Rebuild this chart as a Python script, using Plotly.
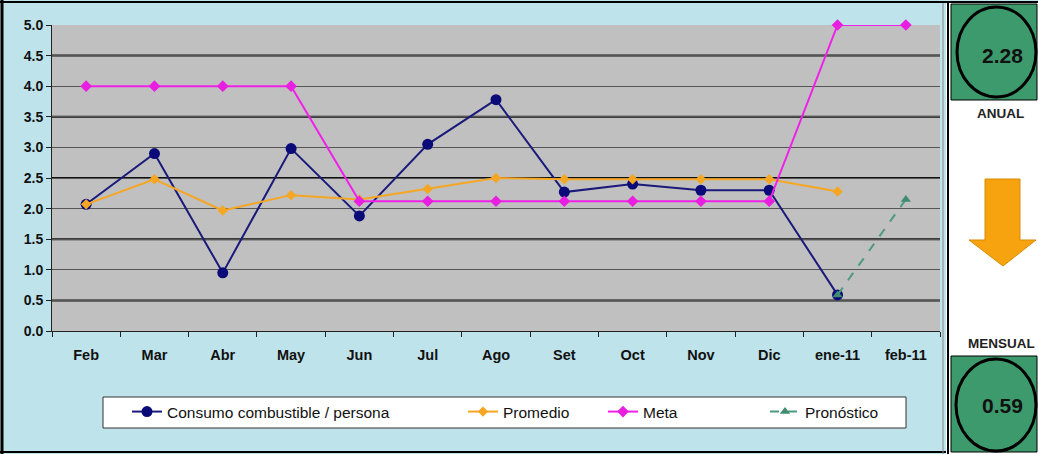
import plotly.graph_objects as go

# ---------------- data ----------------
months = ["Feb", "Mar", "Abr", "May", "Jun", "Jul", "Ago", "Set", "Oct", "Nov", "Dic", "ene-11", "feb-11"]
consumo = [2.07, 2.90, 0.95, 2.98, 1.88, 3.05, 3.78, 2.27, 2.40, 2.30, 2.30, 0.59, None]
promedio = [2.07, 2.48, 1.97, 2.22, 2.15, 2.32, 2.50, 2.48, 2.48, 2.48, 2.48, 2.28, None]
meta = [4.0, 4.0, 4.0, 4.0, 2.12, 2.12, 2.12, 2.12, 2.12, 2.12, 2.12, 5.0, 5.0]
pronostico = [None, None, None, None, None, None, None, None, None, None, None, 0.59, 2.15]
y_tick_vals = [0.0, 0.5, 1.0, 1.5, 2.0, 2.5, 3.0, 3.5, 4.0, 4.5, 5.0]
y_tick_text = ["0.0", "0.5", "1.0", "1.5", "2.0", "2.5", "3.0", "3.5", "4.0", "4.5", "5.0"]
thick_grid = [0.5, 1.5, 2.5, 3.5, 4.5]
anual_value = "2.28"
mensual_value = "0.59"

# ---------------- layout geometry (pixels) ----------------
W, H = 1038, 454
L, R, T, B = 52, 940, 25, 331


def px(x):
    return (x - L) / (R - L)


def py(y):
    return (B - y) / (B - T)


FONT = "Liberation Sans, Arial, sans-serif"
BG = "#BFE3EA"
GREEN = "#3D9A6C"

fig = go.Figure()

fig.add_trace(go.Scatter(
    x=months, y=consumo, name="Consumo combustible / persona", mode="lines+markers",
    line=dict(color="#1A1A7A", width=2), marker=dict(color="#0A0A78", size=11, symbol="circle"),
    cliponaxis=False, legend="legend"))
fig.add_trace(go.Scatter(
    x=months, y=promedio, name="Promedio", mode="lines+markers",
    line=dict(color="#F5A623", width=2), marker=dict(color="#F5A623", size=8, symbol="diamond"),
    cliponaxis=False, legend="legend2"))
fig.add_trace(go.Scatter(
    x=months, y=meta, name="Meta", mode="lines+markers",
    line=dict(color="#F020E8", width=2), marker=dict(color="#E81EE0", size=9, symbol="diamond"),
    cliponaxis=False, legend="legend3"))
fig.add_trace(go.Scatter(
    x=months, y=pronostico, name="Pronóstico", mode="lines+markers",
    line=dict(color="#4E9A7E", width=2, dash="dash"),
    marker=dict(color="#3F8C70", size=9, symbol="triangle-up"),
    cliponaxis=False, legend="legend4"))

shapes = []
# thick gridlines
for v in thick_grid:
    shapes.append(dict(type="line", xref="paper", yref="y", x0=0, x1=1, y0=v, y1=v,
                       line=dict(color="#111111", width=2), layer="below"))
# outer frame lines
shapes.append(dict(type="line", xref="paper", yref="paper", x0=px(2), x1=px(2), y0=py(0), y1=py(454),
                   line=dict(color="black", width=3)))
shapes.append(dict(type="line", xref="paper", yref="paper", x0=px(0), x1=px(1038), y0=py(2), y1=py(2),
                   line=dict(color="black", width=2)))
shapes.append(dict(type="line", xref="paper", yref="paper", x0=px(0), x1=px(1038), y0=py(452), y1=py(452),
                   line=dict(color="black", width=2)))
# right panel
shapes.append(dict(type="rect", xref="paper", yref="paper", x0=px(946), x1=px(1038), y0=py(454), y1=py(3),
                   fillcolor="white", line=dict(width=0)))
shapes.append(dict(type="line", xref="paper", yref="paper", x0=px(943), x1=px(943), y0=py(3), y1=py(454),
                   line=dict(color="#888888", width=1)))
shapes.append(dict(type="line", xref="paper", yref="paper", x0=px(948), x1=px(948), y0=py(3), y1=py(454),
                   line=dict(color="black", width=2)))
# green boxes
shapes.append(dict(type="rect", xref="paper", yref="paper", x0=px(951), x1=px(1037), y0=py(100), y1=py(4),
                   fillcolor=GREEN, line=dict(color="black", width=1)))
shapes.append(dict(type="rect", xref="paper", yref="paper", x0=px(951), x1=px(1037), y0=py(452), y1=py(356),
                   fillcolor=GREEN, line=dict(color="black", width=1)))
# circles
shapes.append(dict(type="circle", xref="paper", yref="paper", x0=px(957), x1=px(1036), y0=py(97), y1=py(7),
                   fillcolor=GREEN, line=dict(color="black", width=3)))
shapes.append(dict(type="circle", xref="paper", yref="paper", x0=px(956), x1=px(1036), y0=py(451), y1=py(359),
                   fillcolor=GREEN, line=dict(color="black", width=3)))
# down arrow
pts = [(985, 179), (1020, 179), (1020, 240), (1036, 240), (1003, 266), (969, 240), (985, 240)]
path = "M " + " L ".join(f"{px(a):.5f},{py(b):.5f}" for a, b in pts) + " Z"
shapes.append(dict(type="path", xref="paper", yref="paper", path=path,
                   fillcolor="#F7A30F", line=dict(color="#D88A00", width=1)))
# legend box
shapes.append(dict(type="rect", xref="paper", yref="paper", x0=px(103), x1=px(906), y0=py(428), y1=py(397),
                   fillcolor="white", line=dict(color="#333333", width=1)))


def note(text, x, y, size, color="#111111"):
    return dict(text=text, x=px(x), y=py(y), xref="paper", yref="paper", showarrow=False,
                xanchor="center", yanchor="middle", font=dict(family=FONT, size=size, color=color))


annotations = [
    note(f"<b>{anual_value}</b>", 1002, 55, 21),
    note(f"<b>{mensual_value}</b>", 1002, 405, 21),
    note("<b>ANUAL</b>", 1000, 113, 13.5, "#222222"),
    note("<b>MENSUAL</b>", 1001, 343, 13.5, "#222222"),
]

leg_common = dict(orientation="h", bgcolor="rgba(0,0,0,0)", borderwidth=0, xanchor="left", yanchor="middle",
                  font=dict(family=FONT, size=15.5, color="#111111"), itemwidth=30)

fig.update_layout(
    width=W, height=H,
    margin=dict(l=L, r=W - R, t=T, b=H - B, pad=0),
    paper_bgcolor=BG, plot_bgcolor="#C0C0C0",
    font=dict(family=FONT, size=14, color="#111111"),
    showlegend=True,
    legend=dict(x=px(127), y=py(412), **leg_common),
    legend2=dict(x=px(463), y=py(412), **leg_common),
    legend3=dict(x=px(603), y=py(412), **leg_common),
    legend4=dict(x=px(765), y=py(412), **leg_common),
    xaxis=dict(type="category", range=[-0.5, len(months) - 0.5], showgrid=False,
               showline=True, linecolor="#222222", linewidth=1,
               ticks="outside", ticklen=5, tickcolor="#222222", tickson="boundaries",
               tickfont=dict(family=FONT, size=14.5, color="#111111"), ticklabelstandoff=11,
               tickmode="array", tickvals=months, ticktext=[f"<b>{m}</b>" for m in months],
               zeroline=False, automargin=False),
    yaxis=dict(range=[0, 5.0], tickmode="array", tickvals=y_tick_vals,
               ticktext=[f"<b>{t}</b>" for t in y_tick_text],
               showgrid=True, gridcolor="#555555", gridwidth=1,
               showline=True, linecolor="#222222", linewidth=1,
               ticks="outside", ticklen=5, tickcolor="#222222",
               tickfont=dict(family=FONT, size=14, color="#111111"), zeroline=False, automargin=False),
    shapes=shapes,
    annotations=annotations,
)

fig.write_html("out.html", config={"displayModeBar": False},
               post_script="document.body.style.margin='0px';")
